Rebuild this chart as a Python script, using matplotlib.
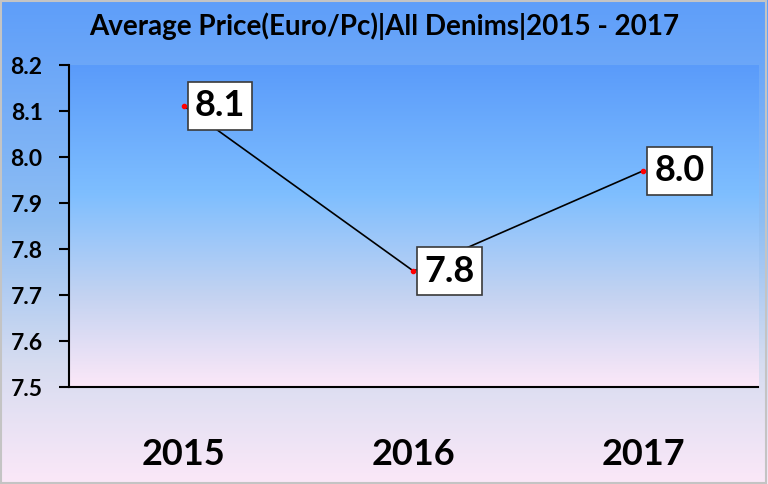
import numpy as np
import matplotlib
matplotlib.use("Agg")
import matplotlib.pyplot as plt
import matplotlib.colors as mcolors

years = ["2015", "2016", "2017"]
avg_price = [8.111, 7.752, 7.970]
y_ticks = [7.5, 7.6, 7.7, 7.8, 7.9, 8.0, 8.1, 8.2]
title = "Average Price(Euro/Pc)|All Denims|2015 - 2017"

plt.rcParams['font.family'] = ['Lato', 'DejaVu Sans']
plt.rcParams['font.weight'] = 'bold'

fig = plt.figure(figsize=(7.68, 4.84), dpi=100)

# figure background gradient
bg = fig.add_axes([0, 0, 1, 1], zorder=-10)
bg_cmap = mcolors.LinearSegmentedColormap.from_list(
    "bg", [(0.0, "#5e9efa"), (0.45, "#8dbdf3"), (0.75, "#d6dcf0"), (1.0, "#fbe8f8")])
bg.imshow(np.linspace(0, 1, 256).reshape(-1, 1), cmap=bg_cmap, aspect='auto',
          extent=[0, 1, 0, 1])
bg.set_xlim(0, 1)
bg.set_ylim(0, 1)
bg.axis('off')
bg.add_patch(plt.Rectangle((0.001, 0.002), 0.997, 0.995, fill=False,
                           ec='#c4c4c4', lw=1.5))

ax = fig.add_axes([0.0898, 0.2004, 0.8972, 0.6653])
x = np.arange(len(years))

# plot area gradient
pa_cmap = mcolors.LinearSegmentedColormap.from_list(
    "pa", [(0.0, "#5a9bfa"), (0.4, "#7ebeff"), (0.72, "#c4d3f1"), (1.0, "#fce8f8")])
ax.imshow(np.linspace(0, 1, 256).reshape(-1, 1), cmap=pa_cmap, aspect='auto',
          extent=[-0.5, 2.5, 7.5, 8.2], zorder=0)

ax.plot(x, avg_price, color='black', lw=1.2, zorder=2)
ax.plot(x, avg_price, 'o', color='red', ms=3, zorder=3)

for xi, v in zip(x, avg_price):
    ax.annotate(f"{v:.1f}", (xi, v), xytext=(11, 0), textcoords='offset pixels',
                ha='left', va='center', fontsize=26, fontweight='bold',
                bbox=dict(boxstyle='square,pad=0.2', fc='white', ec='#3a3a3a', lw=1.2),
                zorder=4)

ax.set_xlim(-0.5, 2.5)
ax.set_ylim(7.5, 8.2)
ax.set_yticks(y_ticks)
ax.set_yticklabels([f"{t:.1f}" for t in y_ticks], fontsize=16.5, fontweight='bold')
ax.set_xticks(x)
ax.set_xticklabels(years, fontsize=26, fontweight='bold')
ax.tick_params(axis='x', length=0, pad=37)
ax.tick_params(axis='y', length=7, width=1.5, direction='out', pad=12)

for s in ['top', 'right']:
    ax.spines[s].set_visible(False)
for s in ['left', 'bottom']:
    ax.spines[s].set_linewidth(1.5)
    ax.spines[s].set_color('black')
ax.patch.set_visible(False)

fig.text(0.5, 0.945, title, ha='center', va='center', fontsize=20, fontweight='bold')

fig.savefig("out.png", dpi=100)
